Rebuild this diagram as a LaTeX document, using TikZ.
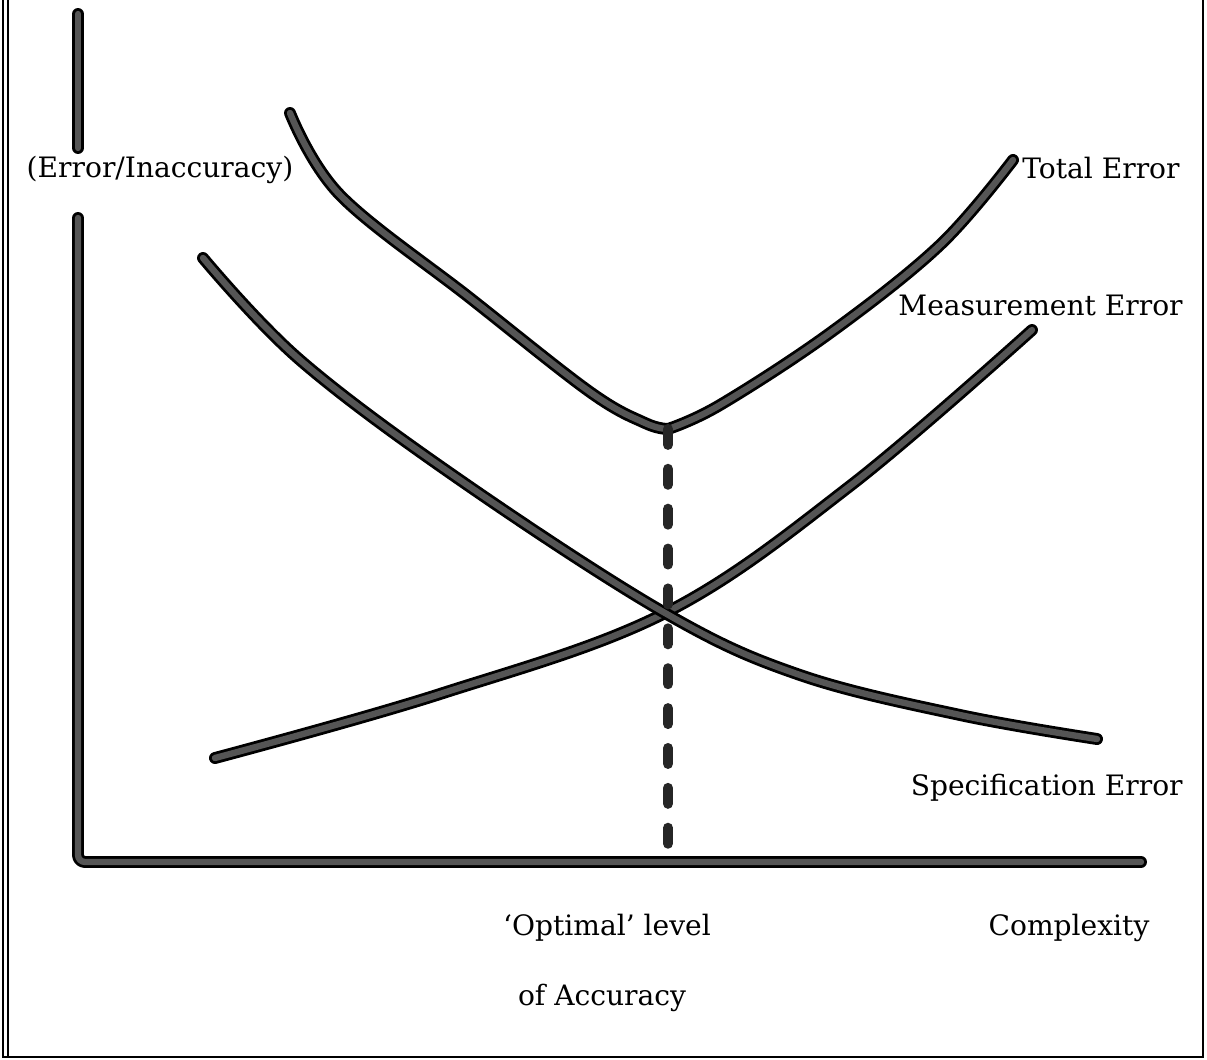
\documentclass[tikz,border=0pt]{standalone}
\usepackage{fontspec}
\setmainfont{DejaVu Serif}
\usetikzlibrary{positioning}
\definecolor{lead}{RGB}{85,85,85}

\tikzset{
  pen/.style={line width=1.6pt, double=lead, double distance=3.6pt, line cap=round, line join=round},
  guide/.style={line width=5.8pt, line cap=round, dash pattern=on 9pt off 13.7pt, black!85},
  lbl/.style={font=\fontsize{16}{19}\selectfont, inner sep=0pt},
}

\begin{document}
\begin{tikzpicture}[x=0.02cm,y=-0.02cm]
\useasboundingbox (0,0) rectangle (1207,1060);
% frame
\draw[line width=1.2pt] (3,0) -- (3,1057) -- (1203,1057) -- (1203,0);
\draw[line width=0.8pt] (8,0) -- (8,1057);
% axes
\coordinate (origin) at (78,862);
\coordinate (xend) at (1141,862);
\coordinate (tmin) at (668,429);
\coordinate (cross) at (665,613);
\draw[pen] (78,14) -- (78,148);
\draw[pen, rounded corners=4pt] (78,218) -- (origin) -- (xend);
% curves
\draw[pen] plot[smooth, tension=0.6] coordinates {(290,113) (340,195) (470,298) (590,392) (645,423) (tmin)}
  -- plot[smooth, tension=0.6] coordinates {(tmin) (720,405) (830,333) (940,245) (1013,160)};
\draw[pen] plot[smooth, tension=0.6] coordinates {(215,758) (440,694) (cross) (850,486) (1032,330)};
\draw[pen] plot[smooth, tension=0.6] coordinates {(203,258) (300,360) (460,480) (cross) (800,675) (960,715) (1097,739)};
\draw[guide] (tmin) -- (tmin |- origin);
% labels
\node[lbl] (yname) at (160,170) {(Error/Inaccuracy)};
\node[lbl, anchor=west] (total) at (1022,168) {Total Error};
\node[lbl, anchor=east] (meas) at (1183,305) {Measurement Error};
\node[lbl, anchor=east] (spec) at (1183,788) {Specification Error};
\node[lbl] (opt) at (607,928) {`Optimal' level};
\node[lbl] (acc) at (602,998) {of Accuracy};
\node[lbl] (cplx) at (1069,928) {Complexity};
\end{tikzpicture}
\end{document}
